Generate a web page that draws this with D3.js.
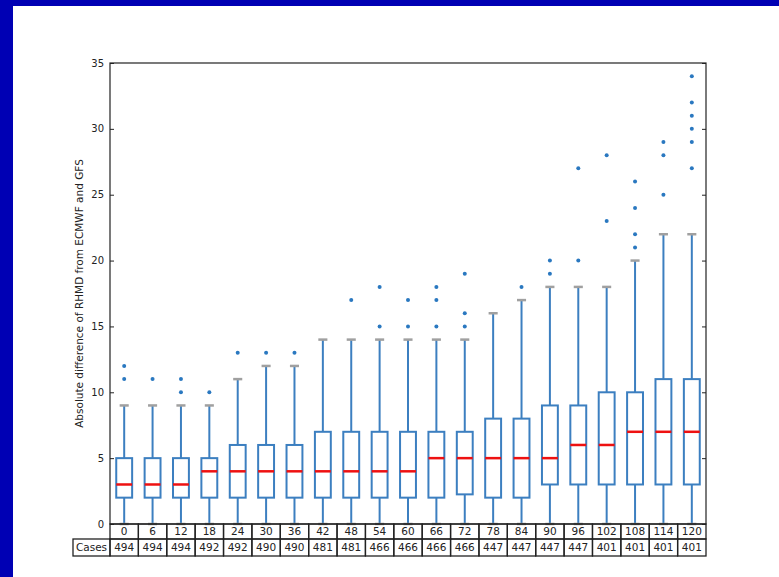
<!DOCTYPE html>
<html>
<head>
<meta charset="utf-8">
<script src="https://cdn.jsdelivr.net/npm/d3@7"></script>
<style>
  html, body { margin: 0; padding: 0; background: #fff; }
  svg { display: block; font-family: "DejaVu Sans", sans-serif; }
</style>
</head>
<body>
<svg id="chart" width="779" height="577"></svg>
<script>
// lead times (hours) and number of cases
const leadTimes = [0, 6, 12, 18, 24, 30, 36, 42, 48, 54, 60, 66, 72, 78, 84, 90, 96, 102, 108, 114, 120];
const cases = [494, 494, 494, 492, 492, 490, 490, 481, 481, 466, 466, 466, 466, 447, 447, 447, 447, 401, 401, 401, 401];

// box statistics
const whiskerLow = [0, 0, 0, 0, 0, 0, 0, 0, 0, 0, 0, 0, 0, 0, 0, 0, 0, 0, 0, 0, 0];
const q1 = [2, 2, 2, 2, 2, 2, 2, 2, 2, 2, 2, 2, 2.25, 2, 2, 3, 3, 3, 3, 3, 3];
const median = [3, 3, 3, 4, 4, 4, 4, 4, 4, 4, 4, 5, 5, 5, 5, 5, 6, 6, 7, 7, 7];
const q3 = [5, 5, 5, 5, 6, 6, 6, 7, 7, 7, 7, 7, 7, 8, 8, 9, 9, 10, 10, 11, 11];
const whiskerHigh = [9, 9, 9, 9, 11, 12, 12, 14, 14, 14, 14, 14, 14, 16, 17, 18, 18, 18, 20, 22, 22];
const outliers = [
  [11, 12], [11], [10, 11], [10], [13], [13], [13], [], [17], [15, 18], [15, 17],
  [15, 17, 18], [15, 16, 19], [], [18], [19, 20], [20, 27], [23, 28],
  [21, 22, 24, 26], [25, 28, 29], [27, 29, 30, 31, 32, 34]
];
const yTicks = [0, 5, 10, 15, 20, 25, 30, 35];

const svg = d3.select("#chart");
const W = +svg.attr("width");
const H = +svg.attr("height");

// blue frame on top and left
svg.append("rect").attr("x", 0).attr("y", 0).attr("width", W).attr("height", 6).attr("fill", "#0000b4");
svg.append("rect").attr("x", 0).attr("y", 0).attr("width", 13).attr("height", H).attr("fill", "#0000b4");

const plotLeft = 110, plotRight = 706, plotTop = 63, plotBottom = 524;
const boxColor = "#3c7fc0";

const x = d3.scaleBand().domain(leadTimes).range([plotLeft, plotRight]);
const y = d3.scaleLinear().domain([0, 35]).range([plotBottom, plotTop]);
const bw = x.bandwidth();

const rows = leadTimes.map((t, i) => ({
  t, lo: whiskerLow[i], q1: q1[i], med: median[i], q3: q3[i], hi: whiskerHigh[i], out: outliers[i]
}));

const g = svg.append("g");
const box = g.selectAll("g.box").data(rows).enter().append("g").attr("class", "box");
const cx = (d) => x(d.t) + bw / 2;

// whiskers
box.append("line")
  .attr("x1", cx).attr("x2", cx)
  .attr("y1", (d) => y(d.q3)).attr("y2", (d) => y(d.hi))
  .attr("stroke", boxColor).attr("stroke-width", 2);
box.append("line")
  .attr("x1", cx).attr("x2", cx)
  .attr("y1", (d) => y(d.q1)).attr("y2", (d) => y(d.lo))
  .attr("stroke", boxColor).attr("stroke-width", 2);

// caps
["hi", "lo"].forEach((k) => {
  box.append("line")
    .attr("x1", (d) => cx(d) - bw * 0.16).attr("x2", (d) => cx(d) + bw * 0.16)
    .attr("y1", (d) => y(d[k])).attr("y2", (d) => y(d[k]))
    .attr("stroke", "#a0a0a0").attr("stroke-width", 2.5);
});

// boxes
box.append("rect")
  .attr("x", (d) => cx(d) - bw * 0.28)
  .attr("width", bw * 0.56)
  .attr("y", (d) => y(d.q3))
  .attr("height", (d) => y(d.q1) - y(d.q3))
  .attr("fill", "none").attr("stroke", boxColor).attr("stroke-width", 2);

// medians
box.append("line")
  .attr("x1", (d) => cx(d) - bw * 0.28).attr("x2", (d) => cx(d) + bw * 0.28)
  .attr("y1", (d) => y(d.med)).attr("y2", (d) => y(d.med))
  .attr("stroke", "#ee1111").attr("stroke-width", 2.5);

// outliers
box.selectAll("circle")
  .data((d) => d.out.map((v) => ({ t: d.t, v })))
  .enter().append("circle")
  .attr("cx", cx).attr("cy", (d) => y(d.v))
  .attr("r", 2).attr("fill", "#2a78c0");

// axes frame
svg.append("rect")
  .attr("x", plotLeft).attr("y", plotTop).attr("width", plotRight - plotLeft).attr("height", plotBottom - plotTop)
  .attr("fill", "none").attr("stroke", "#222").attr("stroke-width", 1.2);

// y ticks (inward, both sides)
const yAxisL = svg.append("g").attr("transform", `translate(${plotLeft},0)`)
  .call(d3.axisRight(y).tickValues(yTicks).tickSize(4).tickFormat(""));
yAxisL.select(".domain").remove();
const yAxisR = svg.append("g").attr("transform", `translate(${plotRight},0)`)
  .call(d3.axisLeft(y).tickValues(yTicks).tickSize(4).tickFormat(""));
yAxisR.select(".domain").remove();
svg.selectAll(".tick line").attr("stroke", "#222");

svg.append("g").selectAll("text").data(yTicks).enter().append("text")
  .attr("x", plotLeft - 6).attr("y", (d) => y(d)).attr("dy", "0.35em")
  .attr("text-anchor", "end").attr("font-size", 10).attr("fill", "#222")
  .text((d) => d);

svg.append("text")
  .attr("transform", `translate(83,${(plotTop + plotBottom) / 2}) rotate(-90)`)
  .attr("text-anchor", "middle").attr("font-size", 10.5).attr("fill", "#222")
  .text("Absolute difference of RHMD from ECMWF and GFS");

// table below the plot
const row1Top = plotBottom, row1Bot = 539, row2Bot = 556, casesLeft = 73;
const tbl = svg.append("g").attr("stroke", "#222").attr("stroke-width", 1.3);
tbl.selectAll("rect.c1").data(leadTimes).enter().append("rect")
  .attr("x", (d) => x(d)).attr("y", row1Top).attr("width", bw).attr("height", row1Bot - row1Top)
  .attr("fill", "none");
tbl.selectAll("rect.c2").data(leadTimes).enter().append("rect")
  .attr("x", (d) => x(d)).attr("y", row1Bot).attr("width", bw).attr("height", row2Bot - row1Bot)
  .attr("fill", "none");
tbl.append("rect")
  .attr("x", casesLeft).attr("y", row1Bot).attr("width", plotLeft - casesLeft).attr("height", row2Bot - row1Bot)
  .attr("fill", "none");

const txt = svg.append("g").attr("font-size", 10.5).attr("fill", "#222").attr("text-anchor", "middle");
txt.selectAll("text.t").data(leadTimes).enter().append("text")
  .attr("x", (d) => x(d) + bw / 2).attr("y", (row1Top + row1Bot) / 2).attr("dy", "0.36em")
  .text((d) => d);
txt.selectAll("text.n").data(cases).enter().append("text")
  .attr("x", (d, i) => x(leadTimes[i]) + bw / 2).attr("y", (row1Bot + row2Bot) / 2).attr("dy", "0.36em")
  .text((d) => d);
txt.append("text")
  .attr("x", (casesLeft + plotLeft) / 2).attr("y", (row1Bot + row2Bot) / 2).attr("dy", "0.36em")
  .text("Cases");
</script>
</body>
</html>
